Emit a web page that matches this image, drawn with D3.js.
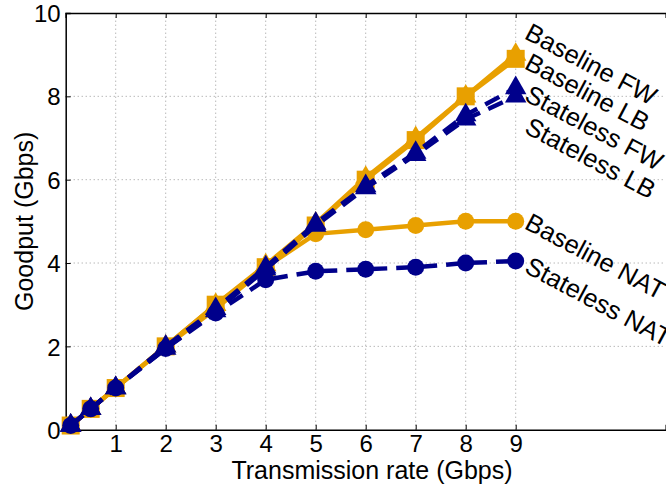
<!DOCTYPE html>
<html>
<head>
<meta charset="utf-8">
<script src="https://cdn.jsdelivr.net/npm/d3@7"></script>
<style>
  body { margin: 0; background: #fff; }
  svg { display: block; font-family: "Liberation Sans", Arial, Helvetica, sans-serif; }
</style>
</head>
<body>
<svg id="chart" width="666" height="485"></svg>
<script>
// transmission rates (Gbps)
var rates = [0.1, 0.5, 1, 2, 3, 4, 5, 6, 7, 8, 9];

// goodput per series (Gbps)
var baselineFW  = [0.1, 0.5, 1, 2, 3, 3.95, 4.95, 6.05, 7.0, 8.0, 9.0];
var baselineLB  = [0.1, 0.5, 1, 2, 3, 3.9, 4.9, 6.0, 6.95, 8.0, 8.9];
var baselineNAT = [0.1, 0.5, 1, 2, 2.9, 3.9, 4.7, 4.8, 4.9, 5.0, 5.0];
var statelessFW  = [0.1, 0.5, 1, 2, 2.9, 3.9, 4.95, 5.85, 6.65, 7.55, 8.2];
var statelessLB  = [0.1, 0.5, 1, 1.95, 2.85, 3.85, 4.9, 5.8, 6.6, 7.45, 8.0];
var statelessNAT = [0.1, 0.5, 1, 1.95, 2.8, 3.6, 3.8, 3.85, 3.9, 4.0, 4.05];

var xTicks = [1, 2, 3, 4, 5, 6, 7, 8, 9];
var yTicks = [0, 2, 4, 6, 8, 10];

var orange = '#e8a000', navy = '#00008b';

// draw order: baseline first, stateless on top
var series = [
  {name: 'Baseline FW', values: baselineFW, color: orange, dash: null, marker: 'tri'},
  {name: 'Baseline LB', values: baselineLB, color: orange, dash: null, marker: 'sq'},
  {name: 'Baseline NAT', values: baselineNAT, color: orange, dash: null, marker: 'circ'},
  {name: 'Stateless FW', values: statelessFW, color: navy, dash: '16,9', marker: 'tri'},
  {name: 'Stateless LB', values: statelessLB, color: navy, dash: '16,9', marker: 'tri'},
  {name: 'Stateless NAT', values: statelessNAT, color: navy, dash: '16,9', marker: 'circ'}
];

// label anchors in data units (x, y)
var labelPos = {
  'Baseline FW': [9.15, 9.4],
  'Baseline LB': [9.15, 8.68],
  'Stateless FW': [9.15, 7.91],
  'Stateless LB': [9.15, 7.14],
  'Baseline NAT': [9.15, 4.84],
  'Stateless NAT': [9.15, 3.79]
};

var svg = d3.select('#chart');

var x = d3.scaleLinear().domain([0, 12]).range([65.7, 665.7]);
var y = d3.scaleLinear().domain([0, 10]).range([429.7, 13]);

//grid
var grid = svg.append('g').attr('stroke', '#999').attr('stroke-width', 1).attr('stroke-dasharray', '1,3');
grid.selectAll('.vg').data(xTicks).enter().append('line')
    .attr('x1', d => x(d)).attr('x2', d => x(d))
    .attr('y1', y(0)).attr('y2', y(10));
grid.selectAll('.hg').data(yTicks.filter(d => d > 0 && d < 10)).enter().append('line')
    .attr('x1', x(0)).attr('x2', x(12))
    .attr('y1', d => y(d)).attr('y2', d => y(d));

// axes
var xAxis = svg.append('g').attr('transform', 'translate(0,' + y(0) + ')')
    .call(d3.axisBottom(x).tickValues(xTicks).tickSize(-5).tickPadding(5).tickFormat(d3.format('d')));
var xTop = svg.append('g').attr('transform', 'translate(0,' + y(10) + ')')
    .call(d3.axisTop(x).tickValues(xTicks).tickSize(-5).tickFormat(''));
var yAxis = svg.append('g').attr('transform', 'translate(' + x(0) + ',0)')
    .call(d3.axisLeft(y).tickValues(yTicks).tickSize(-5).tickPadding(5).tickFormat(d3.format('d')));

[xAxis, xTop, yAxis].forEach(function (g) {
  g.select('.domain').attr('stroke', '#000').attr('stroke-width', 1.5);
  g.selectAll('.tick line').attr('stroke', '#000').attr('stroke-width', 1);
  g.selectAll('.tick text').attr('fill', '#000').style('font-size', '24px')
   .style('font-family', '"Liberation Sans", Arial, Helvetica, sans-serif');
});
xAxis.selectAll('.tick text').attr('dy', '0.72em');
yAxis.selectAll('.tick text').attr('dy', '0.36em');

// axis titles
svg.append('text')
    .attr('x', 372).attr('y', 479)
    .attr('text-anchor', 'middle')
    .style('font-size', '25px')
    .text('Transmission rate (Gbps)');

svg.append('text')
    .attr('transform', 'translate(33,' + ((y(0) + y(10)) / 2) + ') rotate(-90)')
    .attr('text-anchor', 'middle')
    .style('font-size', '25px')
    .text('Goodput (Gbps)');

// lines + markers
var line = d3.line().x(d => x(d[0])).y(d => y(d[1]));
var tri = d3.symbol().type(d3.symbolTriangle).size(200);

series.forEach(function (s) {
  var pts = rates.map((r, i) => [r, s.values[i]]);
  var g = svg.append('g');

  g.append('path')
      .datum(pts)
      .attr('d', line)
      .attr('fill', 'none')
      .attr('stroke', s.color)
      .attr('stroke-width', 4.5)
      .attr('stroke-dasharray', s.dash);

  var m = g.selectAll('.m').data(pts).enter();
  if (s.marker === 'circ') {
    m.append('circle')
        .attr('cx', d => x(d[0])).attr('cy', d => y(d[1]))
        .attr('r', 8.5).attr('fill', s.color);
  } else if (s.marker === 'sq') {
    m.append('rect')
        .attr('x', d => x(d[0]) - 9).attr('y', d => y(d[1]) - 9)
        .attr('width', 18).attr('height', 18).attr('fill', s.color);
  } else {
    m.append('path')
        .attr('d', tri)
        .attr('transform', d => 'translate(' + x(d[0]) + ',' + y(d[1]) + ')')
        .attr('fill', s.color);
  }
});

// rotated labels
svg.selectAll('.lbl')
    .data(series)
    .enter()
    .append('text')
    .attr('transform', d => 'translate(' + x(labelPos[d.name][0]) + ',' + y(labelPos[d.name][1]) + ') rotate(28)')
    .style('font-size', '25.5px')
    .attr('fill', '#000')
    .text(d => d.name);
</script>
</body>
</html>
